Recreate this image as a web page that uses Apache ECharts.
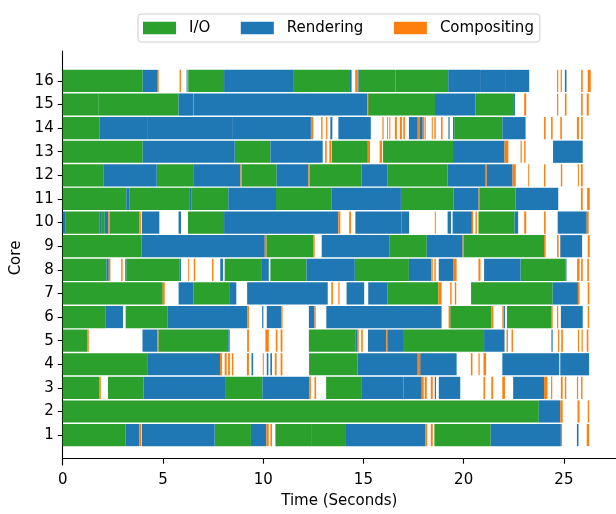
<!DOCTYPE html>
<html>
<head>
<meta charset="utf-8">
<script src="https://cdn.jsdelivr.net/npm/echarts@6/dist/echarts.min.js"></script>
<style>html,body{margin:0;padding:0;background:#fff}#c{width:616px;height:514px}</style>
</head>
<body>
<div id="c"></div>
<script>
// Task types: 0 = I/O, 1 = Rendering, 2 = Compositing
const typeNames = ['I/O', 'Rendering', 'Compositing'];
const typeColors = ['#2ca02c', '#1f77b4', '#ff7f0e'];
const coreLabels = [1,2,3,4,5,6,7,8,9,10,11,12,13,14,15,16];
const xTickValues = [0,5,10,15,20,25];

// Each segment: [start (s), end (s), type]
const core1 = [[0,3.14,0],[3.14,3.83,1],[3.83,3.92,2],[3.95,7.58,1],[7.58,9.39,0],[9.39,10.16,1],[10.16,10.28,2],[10.36,10.44,2],[10.61,12.39,0],[12.39,14.13,0],[14.13,18.08,1],[18.08,18.18,2],[18.36,18.46,2],[18.54,21.35,0],[21.35,24.85,1],[24.85,24.91,2],[25.65,25.73,1],[26.14,26.26,2]];
const core2 = [[0,23.75,0],[23.75,24.82,1],[24.82,24.94,2],[25.68,25.78,2],[26.19,26.26,2]];
const core3 = [[0,1.82,0],[1.82,1.9,2],[2.26,4.03,0],[4.03,8.1,1],[8.1,9.96,0],[9.96,12.31,1],[12.31,12.38,2],[12.56,12.64,2],[13.14,14.89,0],[14.89,17.0,1],[17.0,17.91,1],[17.91,18.01,2],[18.06,18.16,2],[18.36,18.46,2],[18.56,18.62,1],[18.76,19.83,1],[20.99,21.07,2],[21.38,21.47,2],[21.93,22.06,2],[22.47,24.01,1],[24.01,24.18,2],[24.36,24.42,2],[24.85,24.94,2],[25.05,25.12,2],[25.65,25.71,2],[25.86,25.93,2]];
const core4 = [[0,4.25,0],[4.25,7.85,1],[7.85,7.95,2],[8.08,8.18,2],[8.25,8.34,2],[8.44,8.51,2],[9.19,9.29,2],[9.42,9.5,1],[9.98,10.03,2],[10.18,10.26,1],[10.36,10.44,1],[10.58,10.67,2],[10.87,10.96,2],[12.29,14.71,0],[14.71,17.71,1],[17.71,17.83,2],[17.83,19.65,1],[20.36,20.44,2],[20.74,20.8,2],[20.99,21.12,2],[21.93,24.77,1],[24.82,26.26,1]];
const core5 = [[0,1.22,0],[1.22,1.3,2],[3.98,4.71,1],[4.71,4.77,2],[4.77,8.26,0],[8.26,8.33,1],[9.2,9.29,2],[10.11,10.28,2],[10.63,10.71,2],[10.87,10.96,2],[12.28,14.62,0],[14.62,14.71,1],[14.71,14.77,2],[14.89,14.97,2],[15.23,16.14,1],[16.14,16.19,2],[16.19,17.02,1],[17.02,21.02,0],[21.02,22.04,1],[22.14,22.21,2],[22.39,22.46,2],[24.38,24.44,1],[24.71,24.77,2],[24.87,24.95,2],[25.7,25.76,2],[25.88,25.94,2],[26.14,26.22,2]];
const core6 = [[0,2.15,0],[2.15,3.01,1],[3.14,5.24,0],[5.24,9.2,1],[9.2,9.29,2],[9.95,10.01,1],[10.18,10.9,1],[10.9,10.97,2],[12.28,12.56,1],[12.56,12.62,2],[13.15,18.9,1],[19.25,19.33,2],[19.33,21.38,0],[21.38,21.48,2],[21.93,21.99,2],[21.99,22.06,1],[22.16,24.36,0],[24.36,24.44,2],[24.66,24.72,2],[24.85,25.94,1],[26.19,26.26,2]];
const core7 = [[0,2.26,0],[2.26,4.99,0],[4.99,5.09,2],[5.78,6.53,1],[6.53,8.34,0],[8.34,8.66,1],[9.2,13.22,1],[13.4,13.48,2],[13.75,13.81,2],[14.16,15.04,1],[15.24,16.19,1],[16.19,18.74,0],[18.74,18.9,2],[19.33,19.4,2],[19.56,19.63,2],[20.37,24.44,0],[24.44,25.7,1],[25.7,25.78,2],[26.19,26.27,2]];
const core8 = [[0,2.18,0],[2.18,2.3,1],[2.3,2.38,2],[2.92,2.99,2],[3.12,3.17,1],[3.17,5.82,0],[5.82,5.9,1],[6.26,6.31,2],[6.54,6.61,2],[7.45,7.52,2],[7.86,8.0,1],[8.08,9.9,0],[9.9,10.28,1],[10.36,12.16,0],[12.16,14.57,1],[14.57,17.27,0],[17.27,18.39,1],[18.39,18.46,2],[18.54,18.61,2],[18.76,19.5,1],[19.5,19.65,2],[20.74,20.84,2],[21.02,22.84,1],[22.84,25.07,0],[25.07,25.13,1],[25.66,25.78,2],[25.86,25.94,2],[26.17,26.25,2]];
const core9 = [[0,3.93,0],[3.93,10.08,1],[10.08,10.16,2],[10.16,12.51,0],[12.51,12.57,2],[12.92,16.31,1],[16.31,18.16,0],[18.16,19.95,1],[19.95,19.99,2],[19.99,24.01,0],[24.01,24.09,2],[24.66,24.74,2],[24.82,25.91,1],[26.19,26.29,2]];
const core10 = [[0,0.12,1],[0.12,1.85,0],[1.85,1.95,1],[1.95,2.1,0],[2.1,2.28,1],[2.28,2.35,2],[2.35,3.83,0],[3.83,3.9,2],[3.95,4.82,1],[5.78,5.9,1],[6.25,8.05,0],[8.05,13.75,1],[13.75,13.85,2],[14.29,14.38,2],[14.6,16.89,1],[16.89,17.28,1],[18.56,18.61,2],[19.2,19.37,1],[19.45,20.41,1],[20.41,20.47,2],[20.59,20.66,2],[20.74,22.54,0],[22.54,22.72,1],[23.02,23.12,2],[24.01,24.09,2],[24.69,26.14,1],[26.14,26.24,2]];
const core11 = [[0,3.17,0],[3.17,3.34,1],[3.34,6.31,0],[6.31,6.41,1],[6.41,8.26,0],[8.26,10.64,1],[10.64,13.4,0],[13.4,16.87,1],[16.87,19.5,0],[19.5,20.75,1],[20.75,20.78,2],[20.78,22.59,0],[22.59,24.72,1],[25.85,25.94,2],[26.16,26.29,2]];
const core12 = [[0,2.05,0],[2.05,4.69,1],[4.69,6.51,0],[6.51,8.87,1],[8.87,8.92,2],[8.92,10.67,0],[10.67,12.26,1],[12.26,12.33,2],[12.33,14.9,0],[14.9,16.19,1],[16.19,19.2,0],[19.2,21.1,1],[21.1,21.14,2],[21.14,22.44,1],[22.44,22.6,2],[23.22,23.27,2],[24.01,24.08,2],[24.85,24.92,2],[25.7,25.75,2],[25.85,25.94,2]];
const core13 = [[0,3.99,0],[3.99,8.58,1],[8.58,10.36,0],[10.36,12.97,1],[13.09,13.17,2],[13.3,13.4,2],[13.42,15.22,0],[15.22,15.33,2],[15.81,15.93,2],[15.98,19.47,0],[19.47,22.04,1],[22.04,22.23,2],[22.84,22.9,2],[23.02,23.09,2],[24.46,25.94,1]];
const core14 = [[0,1.85,0],[1.85,4.25,1],[4.25,8.49,1],[8.49,12.38,1],[12.39,12.5,2],[12.89,12.96,2],[13.14,13.2,2],[13.35,13.45,1],[13.75,15.37,1],[15.95,16.01,2],[16.18,16.23,2],[16.29,16.34,2],[16.57,16.67,2],[16.82,16.92,2],[16.99,17.07,2],[17.27,17.71,1],[17.71,17.79,2],[17.79,17.96,1],[17.96,18.04,2],[18.06,18.11,2],[18.41,18.46,2],[18.54,18.61,2],[18.87,18.95,2],[19.24,19.3,1],[19.47,19.53,1],[19.53,21.93,0],[21.93,23.09,1],[24.01,24.09,2],[24.36,24.44,2],[24.82,24.9,2],[25.65,25.75,2],[25.86,25.94,2]];
const core15 = [[0,1.77,0],[1.77,5.78,0],[5.78,6.5,1],[6.5,6.54,2],[6.54,15.2,1],[15.2,15.23,2],[15.23,18.57,0],[18.57,20.59,1],[20.59,22.47,0],[22.47,22.56,1],[23.02,23.12,2],[24.66,24.72,2],[25.05,25.13,2],[25.86,25.94,2],[26.14,26.24,2]];
const core16 = [[0,3.99,0],[3.99,4.74,1],[4.74,4.79,2],[5.83,5.9,2],[6.18,6.23,1],[6.26,8.05,0],[8.05,11.53,1],[11.53,14.33,0],[14.33,14.41,1],[14.59,14.71,2],[14.71,14.76,1],[14.76,16.59,0],[16.59,19.23,0],[19.23,20.82,1],[20.82,22.11,1],[22.11,23.27,1],[24.66,24.72,2],[24.84,24.9,2],[25.05,25.13,1],[25.86,25.94,2],[26.19,26.34,2]];

const cores = [core1,core2,core3,core4,core5,core6,core7,core8,core9,core10,core11,core12,core13,core14,core15,core16];
const BAR_H = 0.94;
const FONT = 'DejaVu Sans';
const FS = 15;

const seriesData = [[], [], []];
cores.forEach((segs, i) => {
  segs.forEach(s => { seriesData[s[2]].push([s[0], s[1], coreLabels[i]]); });
});

function renderItem(params, api) {
  const p1 = api.coord([api.value(0), api.value(2)]);
  const p2 = api.coord([api.value(1), api.value(2)]);
  const h = api.size([0, BAR_H])[1];
  const w = Math.max(1, p2[0] - p1[0]);
  return {
    type: 'rect',
    shape: { x: p1[0], y: p1[1] - h / 2, width: w, height: h },
    style: { fill: api.visual('color') }
  };
}

const chart = echarts.init(document.getElementById('c'), null, { renderer: 'canvas' });
chart.setOption({
  animation: false,
  textStyle: { fontFamily: FONT },
  legend: {
    data: typeNames,
    left: 138, top: 14,
    padding: [6, 6, 6, 5],
    itemWidth: 33, itemHeight: 12.6, itemGap: 30.5,
    icon: 'rect',
    borderColor: '#cccccc', borderWidth: 1, borderRadius: 3,
    textStyle: { fontSize: FS, lineHeight: 16, color: '#000', fontFamily: FONT, padding: [0, 0, 0, 8] }
  },
  grid: { left: 62.7, right: -3.5, top: 51, bottom: 46.6, containLabel: false },
  xAxis: {
    type: 'value', min: 0, max: 27.6,
    name: 'Time (Seconds)', nameLocation: 'middle', nameGap: 29,
    nameTextStyle: { fontSize: FS, color: '#000', fontFamily: FONT },
    axisLine: { show: true, lineStyle: { color: '#000', width: 1.1 } },
    axisTick: { show: true, length: 5, lineStyle: { color: '#000', width: 1.1 }, customValues: xTickValues },
    axisLabel: { fontSize: FS, color: '#000', margin: 8, fontFamily: FONT, customValues: xTickValues },
    splitLine: { show: false }
  },
  yAxis: {
    type: 'value', min: -0.267, max: 17.267,
    name: 'Core', nameLocation: 'middle', nameGap: 38, nameRotate: 90,
    nameTextStyle: { fontSize: FS, color: '#000', fontFamily: FONT },
    axisLine: { show: true, lineStyle: { color: '#000', width: 1.1 } },
    axisTick: { show: true, length: 5, lineStyle: { color: '#000', width: 1.1 }, customValues: coreLabels },
    axisLabel: { fontSize: FS, color: '#000', margin: 9, fontFamily: FONT, customValues: coreLabels },
    splitLine: { show: false }
  },
  series: typeNames.map((name, t) => ({
    name: name,
    type: 'custom',
    renderItem: renderItem,
    itemStyle: { color: typeColors[t] },
    encode: { x: [0, 1], y: 2 },
    data: seriesData[t],
    clip: false
  }))
});
</script>
</body>
</html>
